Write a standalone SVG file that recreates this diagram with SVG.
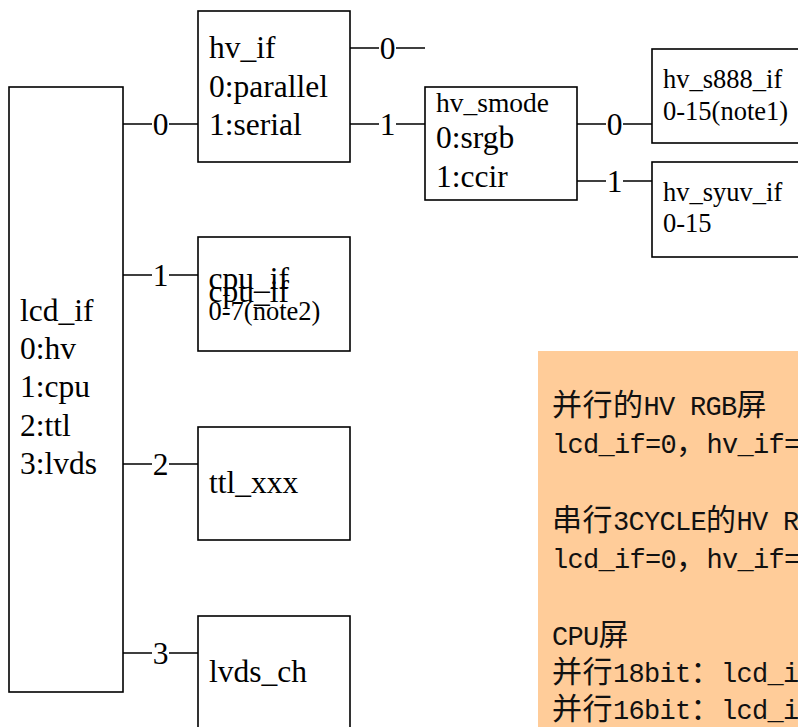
<svg xmlns="http://www.w3.org/2000/svg" width="798" height="727" viewBox="0 0 798 727">
<style>
.box{fill:#fff;stroke:#000;stroke-width:1.6}
.t{font-family:"Liberation Serif","Times New Roman",serif;font-size:31.5px;fill:#000}
.s{font-size:26.5px}
.m{font-size:27.5px}
.c{fill:none;stroke:#000;stroke-width:1.4}
.lbl{font-family:"Liberation Serif","Times New Roman",serif;font-size:31.5px;fill:#000;text-anchor:middle}
.note{fill:#FFCC99;stroke:none}
.n{font-family:"Liberation Mono","Noto Sans CJK SC",monospace;font-size:27px;letter-spacing:-0.7px;fill:#111}
.k{font-family:"Noto Sans CJK SC",sans-serif;font-size:30px;letter-spacing:0.5px}
</style>
<rect width="798" height="727" fill="#fff"/>

<g id="connectors">
  <path class="c" d="M123 124H152M169 124H198"/>
  <text class="lbl" x="160.5" y="135">0</text>
  <path class="c" d="M123 275H152M169 275H198"/>
  <text class="lbl" x="160.5" y="286">1</text>
  <path class="c" d="M123 464H152M169 464H198"/>
  <text class="lbl" x="160.5" y="475">2</text>
  <path class="c" d="M123 653H152M169 653H198"/>
  <text class="lbl" x="160.5" y="664">3</text>
  <path class="c" d="M350 48H379M396 48H425"/>
  <text class="lbl" x="387.5" y="59">0</text>
  <path class="c" d="M350 124H379M396 124H425"/>
  <text class="lbl" x="387.5" y="135">1</text>
  <path class="c" d="M577 124H606M623 124H652"/>
  <text class="lbl" x="614.5" y="135">0</text>
  <path class="c" d="M577 181H606M623 181H652"/>
  <text class="lbl" x="614.5" y="192">1</text>
</g>

<g id="lcd_if">
  <rect class="box" x="9" y="87" width="114" height="605"/>
  <text class="t" x="20" y="321">lcd_if</text>
  <text class="t" x="20" y="359">0:hv</text>
  <text class="t" x="20" y="397">1:cpu</text>
  <text class="t" x="20" y="436">2:ttl</text>
  <text class="t" x="20" y="474">3:lvds</text>
</g>

<g id="hv_if">
  <rect class="box" x="198" y="11" width="152" height="151"/>
  <text class="t" x="209" y="58">hv_if</text>
  <text class="t" x="209" y="97">0:parallel</text>
  <text class="t" x="209" y="135">1:serial</text>
</g>

<g id="hv_smode">
  <rect class="box" x="425" y="87" width="152" height="113"/>
  <text class="t m" x="436" y="112">hv_smode</text>
  <text class="t" x="436" y="148">0:srgb</text>
  <text class="t" x="436" y="187">1:ccir</text>
</g>

<g id="hv_s888_if">
  <rect class="box" x="652" y="49" width="200" height="94"/>
  <text class="t s" x="663" y="88">hv_s888_if</text>
  <text class="t s" x="663" y="120">0-15(note1)</text>
</g>

<g id="hv_syuv_if">
  <rect class="box" x="652" y="162" width="200" height="95"/>
  <text class="t s" x="663" y="201">hv_syuv_if</text>
  <text class="t s" x="663" y="232">0-15</text>
</g>

<g id="cpu_if">
  <rect class="box" x="198" y="237" width="152" height="114"/>
  <text class="t" x="208.5" y="289">cpu_if</text>
  <text class="t" x="208.5" y="301.5">cpu_if</text>
  <text class="t s" x="208.5" y="320">0-7(note2)</text>
</g>

<g id="ttl_xxx">
  <rect class="box" x="198" y="427" width="152" height="113"/>
  <text class="t" x="209" y="493">ttl_xxx</text>
</g>

<g id="lvds_ch">
  <rect class="box" x="198" y="616" width="152" height="150"/>
  <text class="t" x="209" y="682">lvds_ch</text>
</g>

<g id="note">
  <rect class="note" x="538" y="351" width="270" height="400"/>
  <text class="n" x="552" y="415"><tspan class="k">并行的</tspan>HV RGB<tspan class="k">屏</tspan></text>
  <text class="n" x="552" y="452.5">lcd_if=0<tspan class="k">，</tspan>hv_if=</text>
  <text class="n" x="552" y="530"><tspan class="k">串行</tspan>3CYCLE<tspan class="k">的</tspan>HV R</text>
  <text class="n" x="552" y="567.5">lcd_if=0<tspan class="k">，</tspan>hv_if=</text>
  <text class="n" x="552" y="645">CPU<tspan class="k">屏</tspan></text>
  <text class="n" x="552" y="682"><tspan class="k">并行</tspan>18bit<tspan class="k">：</tspan>lcd_i</text>
  <text class="n" x="552" y="719"><tspan class="k">并行</tspan>16bit<tspan class="k">：</tspan>lcd_i</text>
</g>
</svg>
